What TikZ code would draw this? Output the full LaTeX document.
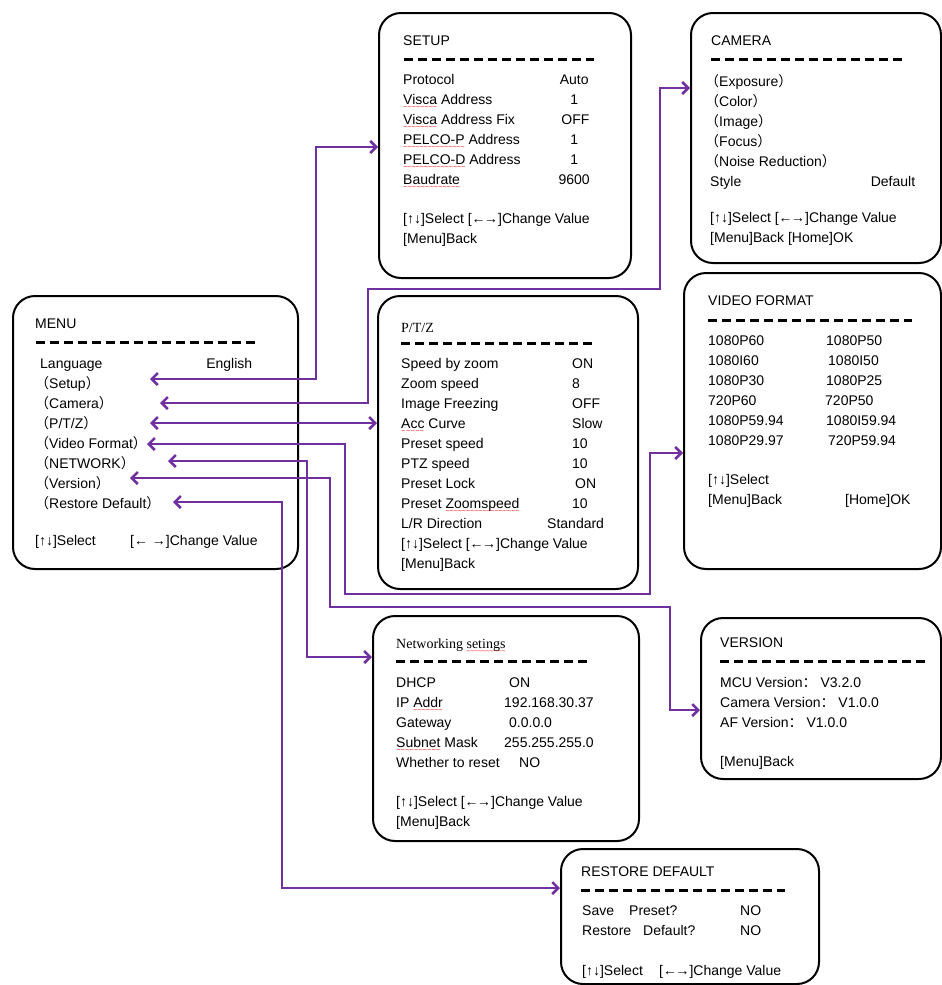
\documentclass[tikz,border=0pt]{standalone}
\usepackage{fontspec}
\setmainfont{Liberation Sans}
\newfontfamily\serifface{Liberation Serif}
\newfontfamily\cjk{Noto Sans CJK SC}
\usetikzlibrary{arrows.meta, positioning}
\definecolor{linkpurple}{RGB}{112,48,160}
\newcommand{\boxfont}{\fontsize{14pt}{20pt}\selectfont}
\newcommand{\lp}{\kern-5pt{\cjk （}}
\newcommand{\rp}{{\cjk ）}}
\newcommand{\lr}{←\kern-1.5pt→}
\newcommand{\kv}[3]{\makebox[#1][l]{#2}#3}
\newcommand{\kvc}[3]{\makebox[#1][l]{#2}\makebox[32pt]{#3}}
\newsavebox{\sqword}
\newcommand{\sq}[1]{\sbox{\sqword}{#1}\rlap{\raisebox{-5pt}[0pt][0pt]{\color{red}\hbox to \wd\sqword{\fontsize{7pt}{7pt}\selectfont\xleaders\hbox{\char"7E}\hfill}}}#1}
\tikzset{
  screen/.style={draw=black, line width=2pt, rounded corners=22pt, anchor=north west, inner sep=0pt},
  boxtitle/.style={anchor=base west, inner sep=0pt, font=\boxfont},
  boxlines/.style={anchor=base west, inner sep=0pt, align=left, font=\boxfont},
  sepline/.style={line width=3pt, dash pattern=on 9pt off 5pt},
  link/.style={draw=linkpurple, line width=2.5pt, {Straight Barb[length=6pt,width=12pt]}-{Straight Barb[length=6pt,width=12pt]}}
}

\begin{document}
\begin{tikzpicture}[x=1pt, y=-1pt]
        \useasboundingbox (0,0) rectangle (942,985);

        % screens
        \node (menubox) [screen, minimum width=285pt, minimum height=273pt] at (12,295) {};
        \node (setupbox) [screen, minimum width=252pt, minimum height=265pt] at (378,12) {};
        \node (camerabox) [screen, minimum width=250pt, minimum height=250pt] at (690,12) {};
        \node (ptzbox) [screen, minimum width=260pt, minimum height=293pt] at (377,295) {};
        \node (vfbox) [screen, minimum width=257pt, minimum height=296pt] at (683,272) {};
        \node (netbox) [screen, minimum width=266pt, minimum height=225pt] at (372,615) {};
        \node (verbox) [screen, minimum width=240pt, minimum height=161pt] at (700,617) {};
        \node (rstbox) [screen, minimum width=258pt, minimum height=135pt] at (560,848) {};

        % MENU (list nodes sit on the baseline of their last line)
        \node (menutitle) [boxtitle] at (35,328) {MENU};
        \draw [sepline] (36,342) -- (257,342);
        \node (menulist) [boxlines] at (40,508) {\makebox[212pt]{Language\hfill English}\\ \lp Setup\rp\\ \lp Camera\rp\\ \lp P/T/Z\rp\\ \lp Video Format\rp\\ \lp NETWORK\rp\\ \lp Version\rp\\ \lp Restore Default\rp};
        \node (menukeys) [boxtitle] at (35,545) {\kv{95pt}{[↑↓]Select}{[← →]Change Value}};

        % SETUP
        \node (setuptitle) [boxtitle] at (403,45) {SETUP};
        \draw [sepline] (404,59) -- (594,59);
        \node (setuplist) [boxlines] at (403,243) {\kvc{155pt}{Protocol}{Auto}\\ \kvc{155pt}{\sq{Visca} Address}{1}\\ \kvc{155pt}{\sq{Visca} Address Fix}{\,OFF}\\ \kvc{155pt}{\sq{PELCO-P} Address}{1}\\ \kvc{155pt}{\sq{PELCO-D} Address}{1}\\ \kvc{155pt}{\sq{Baudrate}}{9600}\\[19pt] {[}↑↓]Select [\lr]Change Value\\ {[}Menu]Back};

        % CAMERA
        \node (cameratitle) [boxtitle] at (711,45) {CAMERA};
        \draw [sepline] (711,59) -- (902,59);
        \node (cameralist) [boxlines] at (710,242) {\lp Exposure\rp\\ \lp Color\rp\\ \lp Image\rp\\ \lp Focus\rp\\ \lp Noise Reduction\rp\\ \makebox[205pt]{Style\hfill Default}\\[16pt] {[}↑↓]Select [\lr]Change Value\\ {[}Menu]Back [Home]OK};

        % P/T/Z
        \node (ptztitle) [boxtitle, font=\serifface\boxfont] at (401,332) {P/T/Z};
        \draw [sepline] (401,343) -- (592,343);
        \node (ptzlist) [boxlines] at (401,568) {\kv{171pt}{Speed by zoom}{ON}\\ \kv{171pt}{Zoom speed}{8}\\ \kv{171pt}{Image Freezing}{OFF}\\ \kv{171pt}{\sq{Acc} Curve}{Slow}\\ \kv{171pt}{Preset speed}{10}\\ \kv{171pt}{PTZ speed}{10}\\ \kv{174pt}{Preset Lock}{ON}\\ \kv{171pt}{Preset \sq{Zoomspeed}}{10}\\ \kv{146pt}{L/R Direction}{Standard}\\ {[}↑↓]Select [\lr]Change Value\\ {[}Menu]Back};

        % VIDEO FORMAT
        \node (vftitle) [boxtitle] at (708,305) {VIDEO FORMAT};
        \draw [sepline] (708,320) -- (912,320);
        \node (vflist) [boxlines] at (708,504) {\kv{118pt}{1080P60}{1080P50}\\ \kv{120pt}{1080I60}{1080I50}\\ \kv{118pt}{1080P30}{1080P25}\\ \kv{117pt}{720P60}{720P50}\\ \kv{118pt}{1080P59.94}{1080I59.94}\\ \kv{120pt}{1080P29.97}{720P59.94}\\[19pt] {[}↑↓]Select\\ \kv{137pt}{[Menu]Back}{[Home]OK}};

        % Networking
        \node (nettitle) [boxtitle, font=\serifface\boxfont] at (396,648) {Networking \sq{setings}};
        \draw [sepline] (396,661) -- (587,661);
        \node (netlist) [boxlines] at (396,826) {\kv{113pt}{DHCP}{ON}\\ \kv{108pt}{IP \sq{Addr}}{192.168.30.37}\\ \kv{113pt}{Gateway}{0.0.0.0}\\ \kv{108pt}{\sq{Subnet} Mask}{255.255.255.0}\\ \kv{123pt}{Whether to reset}{NO}\\[19pt] {[}↑↓]Select [\lr]Change Value\\ {[}Menu]Back};

        % VERSION
        \node (vertitle) [boxtitle] at (720,647) {VERSION};
        \draw [sepline] (720,661) -- (927,661);
        \node (verlist) [boxlines] at (720,766) {MCU Version{\cjk ：} V3.2.0\\ Camera Version{\cjk ：} V1.0.0\\ AF Version{\cjk ：} V1.0.0\\[19pt] {[}Menu]Back};

        % RESTORE DEFAULT
        \node (rsttitle) [boxtitle] at (581,876) {RESTORE DEFAULT};
        \draw [sepline] (581,890) -- (785,890);
        \node (rstlist) [boxlines] at (582,975) {\kv{47pt}{Save}{\kv{111pt}{Preset?}{NO}}\\ \kv{61pt}{Restore}{\kv{97pt}{Default?}{NO}}\\[20pt] \kv{77pt}{[↑↓]Select}{[\lr]Change Value}};

        % menu item ends
        \coordinate (menusetup) at (150,379);
        \coordinate (menucamera) at (160,403);
        \coordinate (menuptz) at (150,423);
        \coordinate (menuvideo) at (147,444);
        \coordinate (menunet) at (168,461);
        \coordinate (menuversion) at (130,478);
        \coordinate (menurestore) at (173,502);

        \draw [link] (menusetup) -| (316,147) -- (setupbox.west |- 316,147);
        \draw [link] (menucamera) -| (368,289) -| (660,88) -- (camerabox.west |- 660,88);
        \draw [link] (menuptz) -- (ptzbox.west |- menuptz);
        \draw [link] (menuvideo) -| (345,594) -| (650,453) -- (vfbox.west |- 650,453);
        \draw [link] (menunet) -| (307,657) -- (netbox.west |- 307,657);
        \draw [link] (menuversion) -| (330,607) -| (670,710) -- (verbox.west |- 670,710);
        \draw [link] (menurestore) -| (282,888) -- (rstbox.west |- 282,888);
\end{tikzpicture}
\end{document}
